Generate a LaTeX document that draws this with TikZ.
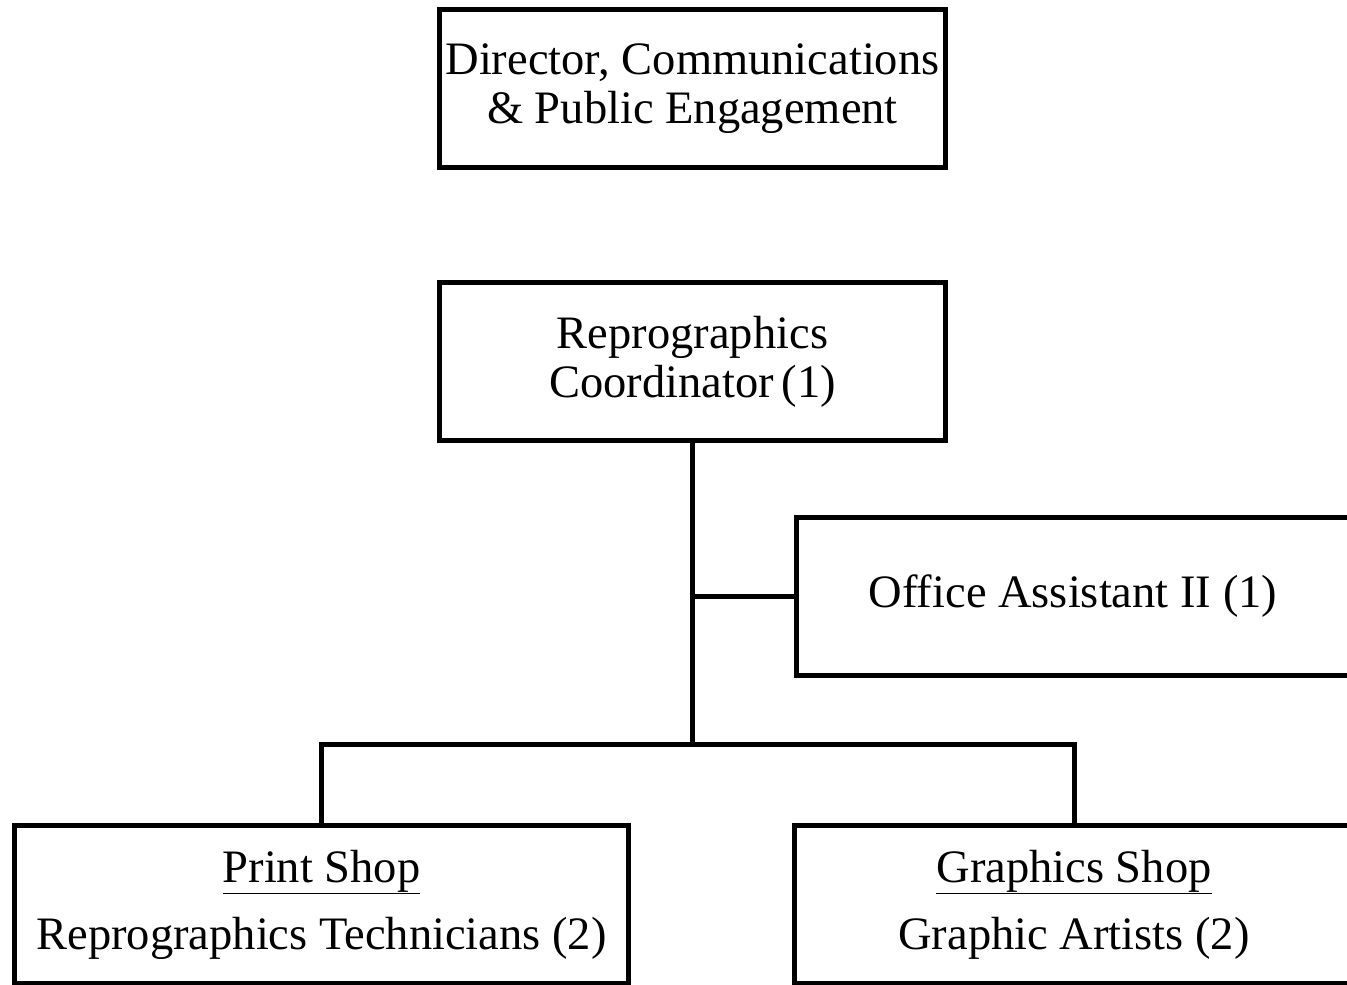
\documentclass[tikz,border=0pt]{standalone}
\usepackage{fontspec}
\setmainfont{Liberation Serif}
\begin{document}
\begin{tikzpicture}[x=1pt,y=-1pt,
  box/.style={draw=black,line width=5pt,inner sep=0pt,align=center,
    font=\fontsize{46.5}{49}\selectfont},
  conn/.style={draw=black,line width=5pt,line join=miter}]
\useasboundingbox (0,0) rectangle (1347,985);
\node[box,minimum width=506pt,minimum height=158pt] (dir) at (692.5,88.5)
  {\raisebox{-3pt}{Director, Communications}\\ \raisebox{-3pt}{\& Public Engagement}};
\node[box,minimum width=506pt,minimum height=158pt] (rep) at (692.5,361.5)
  {\raisebox{-3pt}{Reprographics}\\ \raisebox{-3pt}{Coordinator\,(1)}};
\node[box,minimum width=553pt,minimum height=158pt] (off) at (1073,596.5)
  {\raisebox{-3pt}{Office Assistant II (1)}};
\node[box,minimum width=614pt,minimum height=158pt,font=\fontsize{46.5}{67}\selectfont] (ps) at (321.5,904.5)
  {\raisebox{-2pt}{\underline{Print Shop}}\\ \raisebox{-2pt}{Reprographics Technicians (2)}};
\node[box,minimum width=559pt,minimum height=158pt,font=\fontsize{46.5}{67}\selectfont] (gs) at (1074,904.5)
  {\raisebox{-2pt}{\underline{Graphics Shop}}\\ \raisebox{-2pt}{Graphic Artists (2)}};
\coordinate (bus) at (692.5,744);
\draw[conn] (rep.south) -- (bus);
\draw[conn] (rep.south |- off.west) -- (off.west);
\draw[conn] (ps.north) -- (ps.north |- bus) -- (gs.north |- bus) -- (gs.north);
\end{tikzpicture}
\end{document}
